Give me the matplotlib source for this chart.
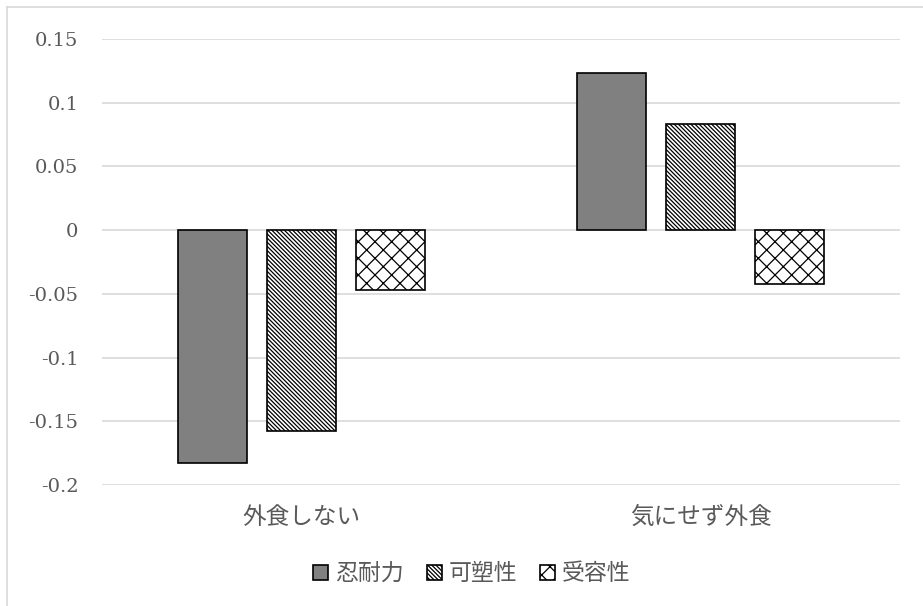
import matplotlib
matplotlib.use("Agg")
import matplotlib.pyplot as plt
import numpy as np
from matplotlib.lines import Line2D

plt.rcParams['font.family'] = ['Noto Sans CJK JP', 'DejaVu Sans']
plt.rcParams['hatch.linewidth'] = 0.9

categories = ['外食しない', '気にせず外食']
series_names = ['忍耐力', '可塑性', '受容性']
nintai = [-0.183, 0.123]
kaso = [-0.158, 0.083]
juyou = [-0.047, -0.042]
yticks = [-0.2, -0.15, -0.1, -0.05, 0, 0.05, 0.1, 0.15]
ytick_labels = ['-0.2', '-0.15', '-0.1', '-0.05', '0', '0.05', '0.1', '0.15']

text_col = '#595959'
grid_col = '#d9d9d9'

fig = plt.figure(figsize=(9.23, 6.06), dpi=100)
ax = fig.add_axes([102/923, 1 - 485/606, 798/923, 446/606])

x = np.arange(len(categories))
w = 0.175
step = w + 0.048
styles = [
    dict(facecolor='#808080', hatch=None),
    dict(facecolor='white', hatch='\\' * 8),
    dict(facecolor='white', hatch='xx'),
]
for i, (vals, st) in enumerate(zip([nintai, kaso, juyou], styles)):
    ax.bar(x + (i - 1) * step, vals, width=w, edgecolor='black', linewidth=1.2,
           label=series_names[i], zorder=3, **st)

ax.set_xlim(-0.5, 1.5)
ax.set_ylim(-0.2, 0.15)
ax.set_yticks(yticks)
ax.set_yticklabels(ytick_labels, family='DejaVu Serif', fontsize=14, color=text_col)
ax.set_xticks(x)
ax.set_xticklabels(categories, fontsize=17, color=text_col)
ax.tick_params(axis='y', length=0, pad=17)
ax.tick_params(axis='x', length=0, pad=15)
ax.grid(axis='y', color=grid_col, linewidth=1.2, zorder=0)
for s in ax.spines.values():
    s.set_visible(False)

leg = fig.legend(loc='center', bbox_to_anchor=(472/923, 1 - 574/606), ncol=3,
                 frameon=False, fontsize=16.5, handlelength=0.65, handleheight=0.65,
                 handletextpad=0.3, columnspacing=1.0, labelcolor=text_col)

# light frame around the chart
fig.add_artist(Line2D([7/923, 7/923], [0, 1 - 7/606], color=grid_col, linewidth=1.2,
                      transform=fig.transFigure))
fig.add_artist(Line2D([7/923, 1], [1 - 7/606, 1 - 7/606], color=grid_col, linewidth=1.2,
                      transform=fig.transFigure))

fig.savefig('out.png', dpi=100, facecolor='white')
